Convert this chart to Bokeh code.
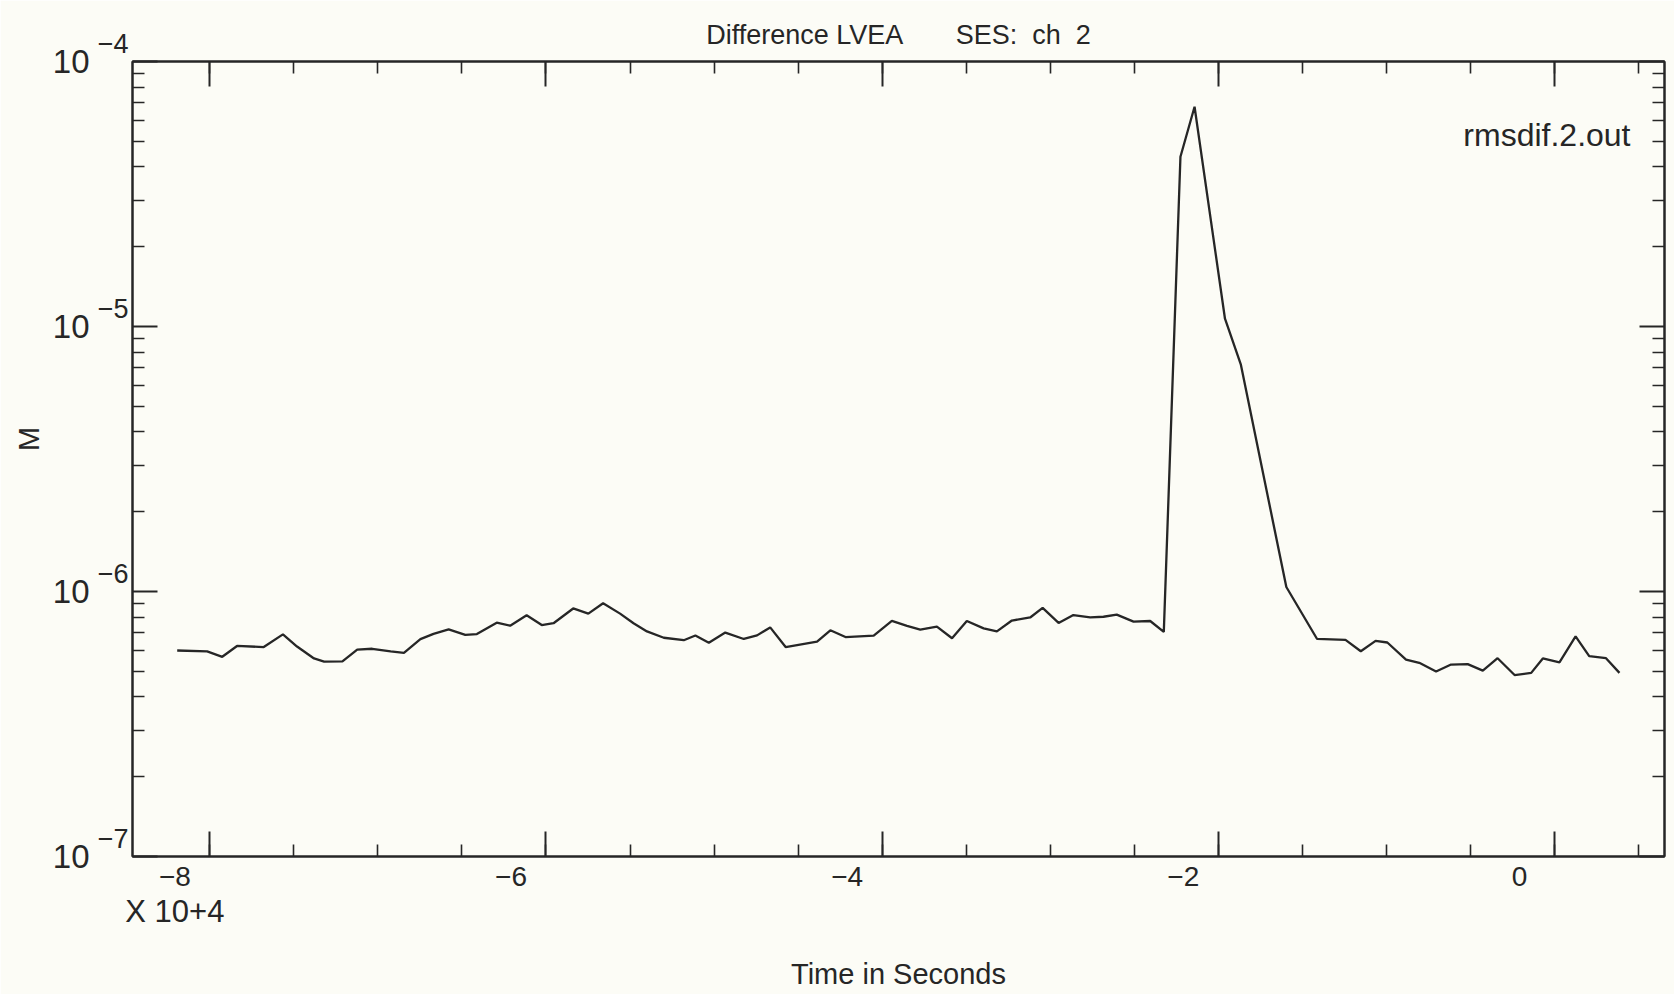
from bokeh.plotting import figure
from bokeh.models import (CustomJSTickFormatter, FixedTicker, Label, LinearAxis,
                          LinearScale, LogAxis, Range1d)
from bokeh.embed import file_html
from bokeh.resources import INLINE

# RMS difference trace, time in units of 1e4 seconds
t_1e4 = [-8.194, -8.016, -7.926, -7.838, -7.679, -7.565, -7.481, -7.380, -7.320,
         -7.211, -7.123, -7.034, -6.924, -6.845, -6.747, -6.669, -6.579, -6.480,
         -6.411, -6.293, -6.213, -6.115, -6.025, -5.955, -5.838, -5.748, -5.660,
         -5.559, -5.479, -5.399, -5.299, -5.180, -5.111, -5.031, -4.933, -4.823,
         -4.744, -4.666, -4.574, -4.387, -4.308, -4.218, -4.050, -3.942, -3.852,
         -3.773, -3.674, -3.584, -3.496, -3.396, -3.317, -3.228, -3.119, -3.045,
         -2.950, -2.862, -2.762, -2.683, -2.604, -2.504, -2.405, -2.324, -2.225,
         -2.141, -1.960, -1.866, -1.595, -1.412, -1.243, -1.152, -1.064, -0.994,
         -0.883, -0.804, -0.704, -0.615, -0.516, -0.426, -0.338, -0.237, -0.138,
         -0.069, 0.030, 0.126, 0.207, 0.307, 0.387]
rms_m = [5.99e-7, 5.94e-7, 5.67e-7, 6.23e-7, 6.17e-7, 6.89e-7, 6.20e-7, 5.59e-7, 5.44e-7,
         5.45e-7, 6.04e-7, 6.08e-7, 5.94e-7, 5.87e-7, 6.61e-7, 6.92e-7, 7.19e-7, 6.86e-7,
         6.91e-7, 7.63e-7, 7.43e-7, 8.13e-7, 7.47e-7, 7.59e-7, 8.63e-7, 8.25e-7, 9.03e-7,
         8.25e-7, 7.59e-7, 7.07e-7, 6.69e-7, 6.55e-7, 6.82e-7, 6.41e-7, 7.00e-7, 6.62e-7,
         6.83e-7, 7.32e-7, 6.17e-7, 6.47e-7, 7.14e-7, 6.73e-7, 6.82e-7, 7.75e-7, 7.42e-7,
         7.18e-7, 7.37e-7, 6.66e-7, 7.74e-7, 7.26e-7, 7.07e-7, 7.77e-7, 7.98e-7, 8.67e-7,
         7.61e-7, 8.15e-7, 7.99e-7, 8.03e-7, 8.18e-7, 7.70e-7, 7.74e-7, 7.04e-7, 4.37e-5,
         6.75e-5, 1.07e-5, 7.20e-6, 1.04e-6, 6.62e-7, 6.57e-7, 5.95e-7, 6.51e-7, 6.42e-7,
         5.53e-7, 5.38e-7, 4.99e-7, 5.30e-7, 5.32e-7, 5.03e-7, 5.60e-7, 4.84e-7, 4.93e-7,
         5.59e-7, 5.40e-7, 6.77e-7, 5.70e-7, 5.60e-7, 4.93e-7]

x_lo, x_hi = -8.46, 0.655
y_lo, y_hi = 1e-7, 1e-4

x_major = [-8, -6, -4, -2, 0]
x_major_labels = ["\u22128", "\u22126", "\u22124", "\u22122", "0"]
x_minor = [-8.0 + 0.5 * i for i in range(18)]

y_major = [1e-7, 1e-6, 1e-5, 1e-4]
y_major_base = ["10", "10", "10", "10"]
y_major_exp = ["\u22127", "\u22126", "\u22125", "\u22124"]
y_minor = [m * 10.0 ** e for e in (-7, -6, -5) for m in range(2, 10)]

title_text = "Difference LVEA" + "\u00a0" * 7 + "SES:\u00a0\u00a0ch\u00a0\u00a02"
x_scale_note = "X 10+4"
x_title = "Time in Seconds"
y_title = "M"
file_tag = "rmsdif.2.out"

INK = "#262626"
PAPER = "#fcfcf6"
FONT = "Liberation Sans"

# the plotter's tick numbers sit a little left of their ticks
label_shift = 0.208          # x units (about 35 px)

p = figure(width=1674, height=994,
           x_range=Range1d(x_lo, x_hi), y_range=Range1d(y_lo, y_hi),
           y_axis_type="log", output_backend="svg", toolbar_location=None,
           min_border_left=132, min_border_right=10,
           min_border_top=61, min_border_bottom=138)

p.extra_x_ranges["xlab"] = Range1d(x_lo + label_shift, x_hi + label_shift)
p.extra_x_scales["xlab"] = LinearScale()

p.background_fill_color = PAPER
p.border_fill_color = PAPER
p.outline_line_color = INK
p.outline_line_width = 2
p.grid.visible = False

p.title.text = title_text
p.title.align = "center"
p.title.offset = 6
p.title.text_font = FONT
p.title.text_font_size = "27px"
p.title.text_font_style = "normal"
p.title.text_color = INK
p.title.standoff = 24

blank = CustomJSTickFormatter(code="return ''")
x_ticker = FixedTicker(ticks=x_major, minor_ticks=x_minor)
y_ticker = FixedTicker(ticks=y_major, minor_ticks=y_minor)


def lookup(values, labels):
    return CustomJSTickFormatter(
        args=dict(values=values, labels=labels),
        code="""
        const i = values.findIndex(v => Math.abs(v - tick) <= 1e-9 * Math.abs(v) + 1e-12);
        return i < 0 ? '' : labels[i];
        """)


def tick_axis(ax, ticker):
    ax.ticker = ticker
    ax.formatter = blank
    ax.axis_line_color = INK
    ax.axis_line_width = 2
    ax.major_tick_in = 25
    ax.major_tick_out = 0
    ax.minor_tick_in = 12
    ax.minor_tick_out = 0
    ax.major_tick_line_color = INK
    ax.major_tick_line_width = 2
    ax.minor_tick_line_color = INK
    ax.minor_tick_line_width = 1.6
    ax.major_label_text_font_size = "1px"
    ax.major_label_standoff = 0


def label_axis(ax, ticker, formatter, size, standoff):
    ax.ticker = ticker
    ax.formatter = formatter
    ax.axis_line_color = None
    ax.major_tick_line_color = None
    ax.minor_tick_line_color = None
    ax.major_tick_in = 0
    ax.major_tick_out = 0
    ax.minor_tick_in = 0
    ax.minor_tick_out = 0
    ax.major_label_text_font = FONT
    ax.major_label_text_font_size = size
    ax.major_label_text_color = INK
    ax.major_label_standoff = standoff
    ax.axis_label_text_font = FONT
    ax.axis_label_text_font_size = "29px"
    ax.axis_label_text_font_style = "normal"
    ax.axis_label_text_color = INK


# tick-only frame axes on all four sides
tick_axis(p.below[0], x_ticker)
tick_axis(p.left[0], y_ticker)
top_axis = LinearAxis()
tick_axis(top_axis, x_ticker)
p.add_layout(top_axis, "above")
right_axis = LogAxis()
tick_axis(right_axis, y_ticker)
p.add_layout(right_axis, "right")

# bottom tick numbers
x_num_axis = LinearAxis(x_range_name="xlab")
label_axis(x_num_axis, FixedTicker(ticks=x_major), lookup(x_major, x_major_labels),
           "28px", 10)
p.add_layout(x_num_axis, "below")

# power-of-ten note and axis title
x_note_axis = LinearAxis(x_range_name="xlab")
label_axis(x_note_axis, FixedTicker(ticks=[x_major[0]]), lookup([x_major[0]], [x_scale_note]),
           "31px", 5)
x_note_axis.axis_label = x_title
x_note_axis.axis_label_standoff = 26
p.add_layout(x_note_axis, "below")

# decade exponents: an empty second line lifts each exponent above its tick
y_exp_axis = LogAxis()
label_axis(y_exp_axis, FixedTicker(ticks=y_major),
           lookup(y_major, [e + "\n\u00a0" for e in y_major_exp]), "27px", 4)
p.add_layout(y_exp_axis, "left")

# "10" bases and the axis title
y_base_axis = LogAxis()
label_axis(y_base_axis, FixedTicker(ticks=y_major), lookup(y_major, y_major_base),
           "33px", 5)
y_base_axis.axis_label = "\u00a0" * 5 + y_title
y_base_axis.axis_label_standoff = 5
p.add_layout(y_base_axis, "left")

p.line(t_1e4, rms_m, line_color=INK, line_width=2.3)

p.add_layout(Label(x=x_hi, y=5.26e-5, x_offset=-34, text=file_tag,
                   text_align="right", text_baseline="middle",
                   text_font=FONT, text_font_size="32px", text_color=INK))

open("out.html", "w").write(file_html(p, INLINE))
